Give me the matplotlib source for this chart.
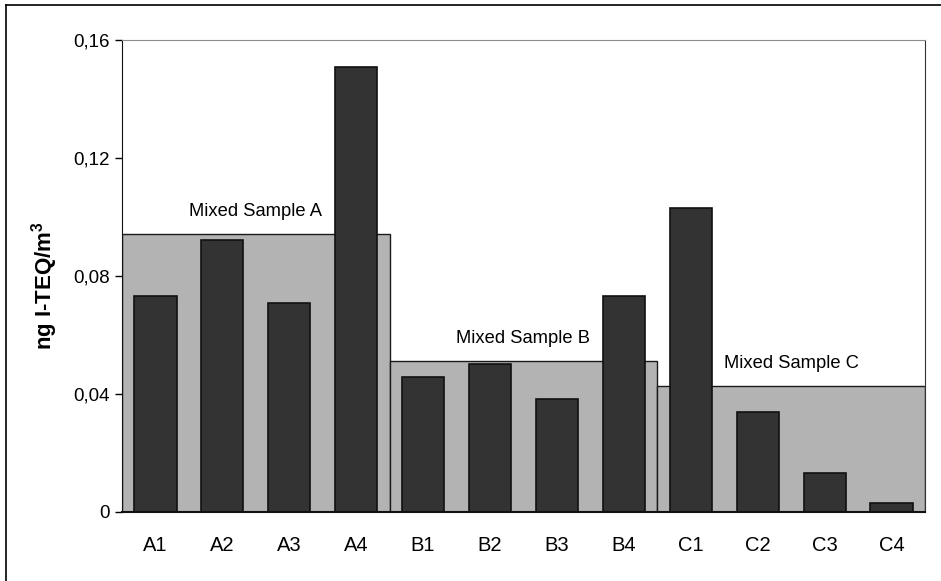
import numpy as np
import matplotlib
matplotlib.use("Agg")
import matplotlib.pyplot as plt
from matplotlib.lines import Line2D

plt.rcParams["font.family"] = ["Liberation Sans", "DejaVu Sans"]
plt.rcParams["mathtext.default"] = "regular"

samples = ["A1", "A2", "A3", "A4", "B1", "B2", "B3", "B4", "C1", "C2", "C3", "C4"]
values = [0.0733, 0.0923, 0.0708, 0.1510, 0.0459, 0.0501, 0.0382, 0.0733,
          0.1031, 0.0340, 0.0132, 0.0031]

mixed_labels = ["Mixed Sample A", "Mixed Sample B", "Mixed Sample C"]
mixed_values = [0.0941, 0.0512, 0.0427]
group_size = 4

fig = plt.figure(figsize=(9.41, 5.81), dpi=100)
ax = fig.add_axes([122 / 941, 1 - 512 / 581, (925 - 122) / 941, (512 - 40) / 581])

x = np.arange(len(samples))

# mixed samples: one wide grey bar per group
for i, (lab, val) in enumerate(zip(mixed_labels, mixed_values)):
    left = i * group_size - 0.5
    ax.bar(left, val, width=group_size, align="edge", color="#b3b3b3",
           edgecolor="#1a1a1a", linewidth=1.0, zorder=1)
    ax.annotate(lab, xy=(left + group_size / 2, val), xytext=(0, 16.5),
                textcoords="offset points", ha="center", va="center",
                fontsize=13.2, zorder=3)

ax.bar(x, values, width=0.63, color="#333333", edgecolor="#111111",
       linewidth=1.2, zorder=2)

ax.set_xlim(-0.5, len(samples) - 0.5)
ax.set_ylim(0, 0.16)
ax.set_yticks([0, 0.04, 0.08, 0.12, 0.16])
ax.set_yticklabels(["0", "0,04", "0,08", "0,12", "0,16"])
ax.set_xticks(x)
ax.set_xticklabels(samples)
ax.tick_params(axis="x", length=0, labelsize=14.5, pad=17)
ax.tick_params(axis="y", length=5, width=1, labelsize=13.5, pad=4, direction="out")

ax.set_ylabel("ng I-TEQ/m$^{3}$", fontsize=16, fontweight="bold")
ax.yaxis.set_label_coords(-0.077, 0.48)

ax.spines["left"].set_color("#111111")
ax.spines["bottom"].set_color("#111111")
ax.spines["bottom"].set_linewidth(1.5)
ax.spines["top"].set_color("#8c8c8c")
ax.spines["right"].set_color("#333333")

# outer chart border (top and left edges)
fig.add_artist(Line2D([6 / 941, 1], [1 - 5 / 581] * 2, transform=fig.transFigure,
                      color="black", linewidth=1.2))
fig.add_artist(Line2D([6 / 941] * 2, [0, 1 - 5 / 581], transform=fig.transFigure,
                      color="black", linewidth=1.2))

fig.savefig("out.png", dpi=100)
